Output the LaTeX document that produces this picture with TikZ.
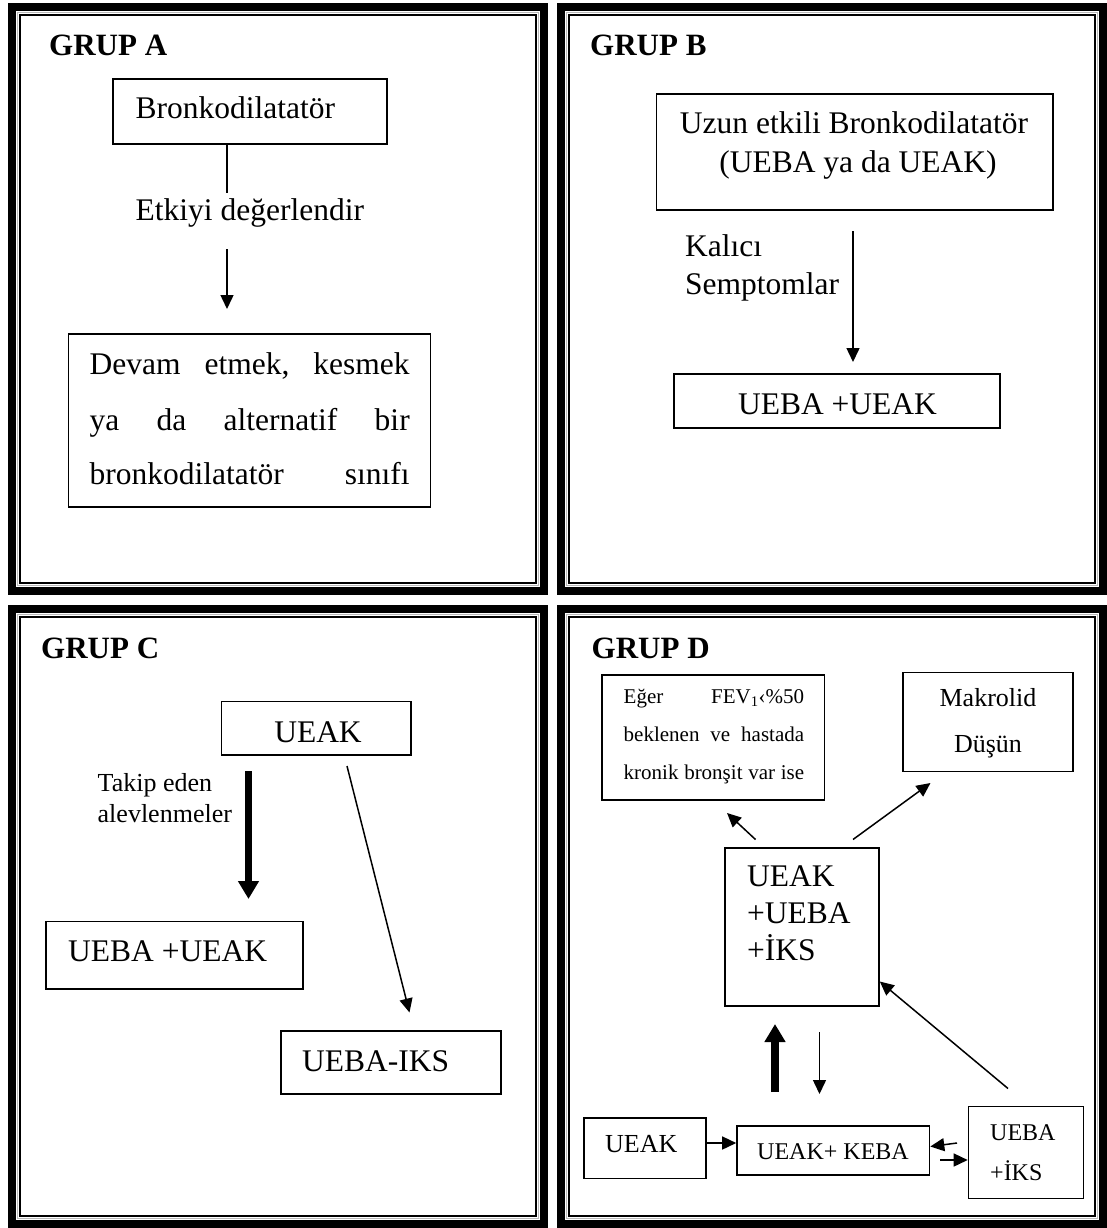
\documentclass[tikz,border=0pt]{standalone}
\usepackage{fontspec}
\setmainfont{Liberation Serif}
\usetikzlibrary{arrows.meta}
\newcommand\szbig{\fontsize{31.5}{37}\selectfont}
\newcommand\szmid{\fontsize{26}{31}\selectfont}
\newcommand\szsm{\fontsize{24}{29}\selectfont}
\newcommand\szxs{\fontsize{21}{25}\selectfont}
\newcommand\szgrp{\fontsize{31}{37}\selectfont\bfseries}
\newcommand\panelframe[4]{%
  \draw[line width=8pt] (#1+4,#2+4) rectangle (#3-4,#4-4);
  \draw[gray!55, line width=0.8pt] (#1+9.6,#2+9.6) rectangle (#3-9.6,#4-9.6);
  \draw[line width=2pt] (#1+12,#2+12) rectangle (#3-12,#4-12);
}
\begin{document}
\begin{tikzpicture}[x=1pt,y=-1pt,
  box/.style={draw, line width=1.6pt, inner sep=0pt},
  txt/.style={inner sep=0pt, anchor=base west},
  txtc/.style={inner sep=0pt, anchor=base},
  arr/.style={line width=1.5pt, -{Triangle[length=14pt,width=13pt]}},
  tarr/.style={line width=7.5pt, -{Triangle[length=18pt,width=20pt]}},
  plain/.style={line width=1.5pt}]
\useasboundingbox[fill=white] (0,0) rectangle (1107,1228);

% frames
\panelframe{8}{3}{548}{595}
\panelframe{557}{3}{1107}{595}
\panelframe{8}{605}{548}{1228}
\panelframe{557}{605}{1107}{1228}

% ---------- GRUP A ----------
\node[txt,font=\szgrp] (gA) at (49,56) {GRUP A};
\node[box, minimum width=274pt, minimum height=65pt] (A1) at (250,111.5) {};
\node[txt,font=\szbig] (A1t) at (135.5,119) {Bronkodilatatör};
\node[txt,font=\szbig] (Aet) at (135.5,220) {Etkiyi değerlendir};
\node[box, minimum width=362pt, minimum height=173pt] (A2) at (249.5,420.5) {};
\node[txt,font=\szbig] (A2a) at (89.5,374) {\hbox to 320pt{Devam\hfill etmek,\hfill kesmek}};
\node[txt,font=\szbig] (A2b) at (89.5,430) {\hbox to 320pt{ya\hfill da\hfill alternatif\hfill bir}};
\node[txt,font=\szbig] (A2c) at (89.5,484.5) {\hbox to 320pt{bronkodilatatör\hfill sınıfı}};
\coordinate (Al) at (227,193);
\draw[plain] (A1.south -| Al) -- (Al);
\coordinate (Aa1) at (227,249);
\coordinate (Aa2) at (227,309);
\draw[arr] (Aa1) -- (Aa2);

% ---------- GRUP B ----------
\node[txt,font=\szgrp] (gB) at (590,56) {GRUP B};
\node[box, minimum width=396.5pt, minimum height=116pt] (B1) at (854.75,152) {};
\node[txtc,font=\szbig] (B1a) at (854,134) {Uzun etkili Bronkodilatatör};
\node[txtc,font=\szbig] (B1b) at (858,172) {(UEBA ya da UEAK)};
\node[txt,font=\szbig] (Bk1) at (685,256) {Kalıcı};
\node[txt,font=\szbig] (Bk2) at (685,294) {Semptomlar};
\node[box, minimum width=326pt, minimum height=54pt] (B2) at (837,401) {};
\node[txtc,font=\szbig] (B2t) at (837.5,414) {UEBA +UEAK};
\coordinate (Ba1) at (853,231);
\coordinate (Ba2) at (853,362);
\draw[arr] (Ba1) -- (Ba2);

% ---------- GRUP C ----------
\node[txt,font=\szgrp] (gC) at (41,658) {GRUP C};
\node[box, minimum width=189.5pt, minimum height=53.5pt] (C1) at (316.25,728.25) {};
\node[txtc,font=\szbig] (C1t) at (318,742) {UEAK};
\node[txt,font=\szmid] (Ct1) at (97.5,791) {Takip eden};
\node[txt,font=\szmid] (Ct2) at (97.5,822.5) {alevlenmeler};
\node[box, minimum width=257pt, minimum height=67.5pt] (C2) at (174.5,955.25) {};
\node[txt,font=\szbig] (C2t) at (68,961) {UEBA +UEAK};
\node[box, minimum width=220pt, minimum height=63pt] (C3) at (391,1062.5) {};
\node[txt,font=\szbig] (C3t) at (302,1071) {UEBA-IKS};
\coordinate (Ca1) at (248.5,771);
\coordinate (Ca2) at (248.5,899);
\draw[tarr] (Ca1) -- (Ca2);
\coordinate (Cb1) at (347,766);
\coordinate (Cb2) at (409.5,1012.5);
\draw[arr] (Cb1) -- (Cb2);

% ---------- GRUP D ----------
\node[txt,font=\szgrp] (gD) at (591.5,658) {GRUP D};
\node[box, minimum width=222.5pt, minimum height=125pt] (D1) at (713.25,737.5) {};
\node[txt,font=\szxs] (D1a) at (623.5,703) {\hbox to 180.5pt{Eğer\hfill FEV\textsubscript{1}‹\%50}};
\node[txt,font=\szxs] (D1b) at (623.5,741) {\hbox to 180.5pt{beklenen\hfill ve\hfill hastada}};
\node[txt,font=\szxs] (D1c) at (623.5,779) {\hbox to 180.5pt{kronik\hfill bronşit\hfill var\hfill ise}};
\node[box, minimum width=170pt, minimum height=99pt] (D2) at (988,722) {};
\node[txtc,font=\szmid] (D2a) at (988,706) {Makrolid};
\node[txtc,font=\szmid] (D2b) at (988,752) {Düşün};
\node[box, minimum width=154pt, minimum height=158pt] (D3) at (802,927) {};
\node[txt,font=\szbig] (D3a) at (747,886) {UEAK};
\node[txt,font=\szbig] (D3b) at (747,923) {+UEBA};
\node[txt,font=\szbig] (D3c) at (747,960.5) {+İKS};
\node[box, minimum width=122pt, minimum height=60.5pt] (D4) at (645,1148.25) {};
\node[txt,font=\szmid] (D4t) at (605,1152) {UEAK};
\node[box, minimum width=192.5pt, minimum height=49pt] (D5) at (833.25,1150.5) {};
\node[txtc,font=\szsm] (D5t) at (833,1159) {UEAK+ KEBA};
\node[box, minimum width=115pt, minimum height=92pt] (D6) at (1026,1152.5) {};
\node[txt,font=\szsm] (D6a) at (990,1140.5) {UEBA};
\node[txt,font=\szsm] (D6b) at (990,1180.5) {+İKS};

\coordinate (Da1) at (755.5,839.5);
\coordinate (Da2) at (727,813);
\draw[arr] (Da1) -- (Da2);
\coordinate (Db1) at (853,839.5);
\coordinate (Db2) at (930.5,783);
\draw[arr] (Db1) -- (Db2);
\coordinate (Dc1) at (775,1092);
\coordinate (Dc2) at (775,1024);
\draw[tarr] (Dc1) -- (Dc2);
\coordinate (Dd1) at (819.5,1032);
\coordinate (Dd2) at (819.5,1094);
\draw[arr] (Dd1) -- (Dd2);
\coordinate (De1) at (1008,1088.5);
\draw[arr] (De1) -- (D3.east |- 0,981.5);
\draw[arr] (D4.east |- 0,1143) -- (D5.west |- 0,1143);
\coordinate (Df1) at (957,1143);
\draw[arr] (Df1) -- (D5.east |- 0,1146.5);
\coordinate (Dg1) at (940,1160);
\draw[arr] (Dg1) -- (D6.west |- 0,1160);
\end{tikzpicture}
\end{document}
